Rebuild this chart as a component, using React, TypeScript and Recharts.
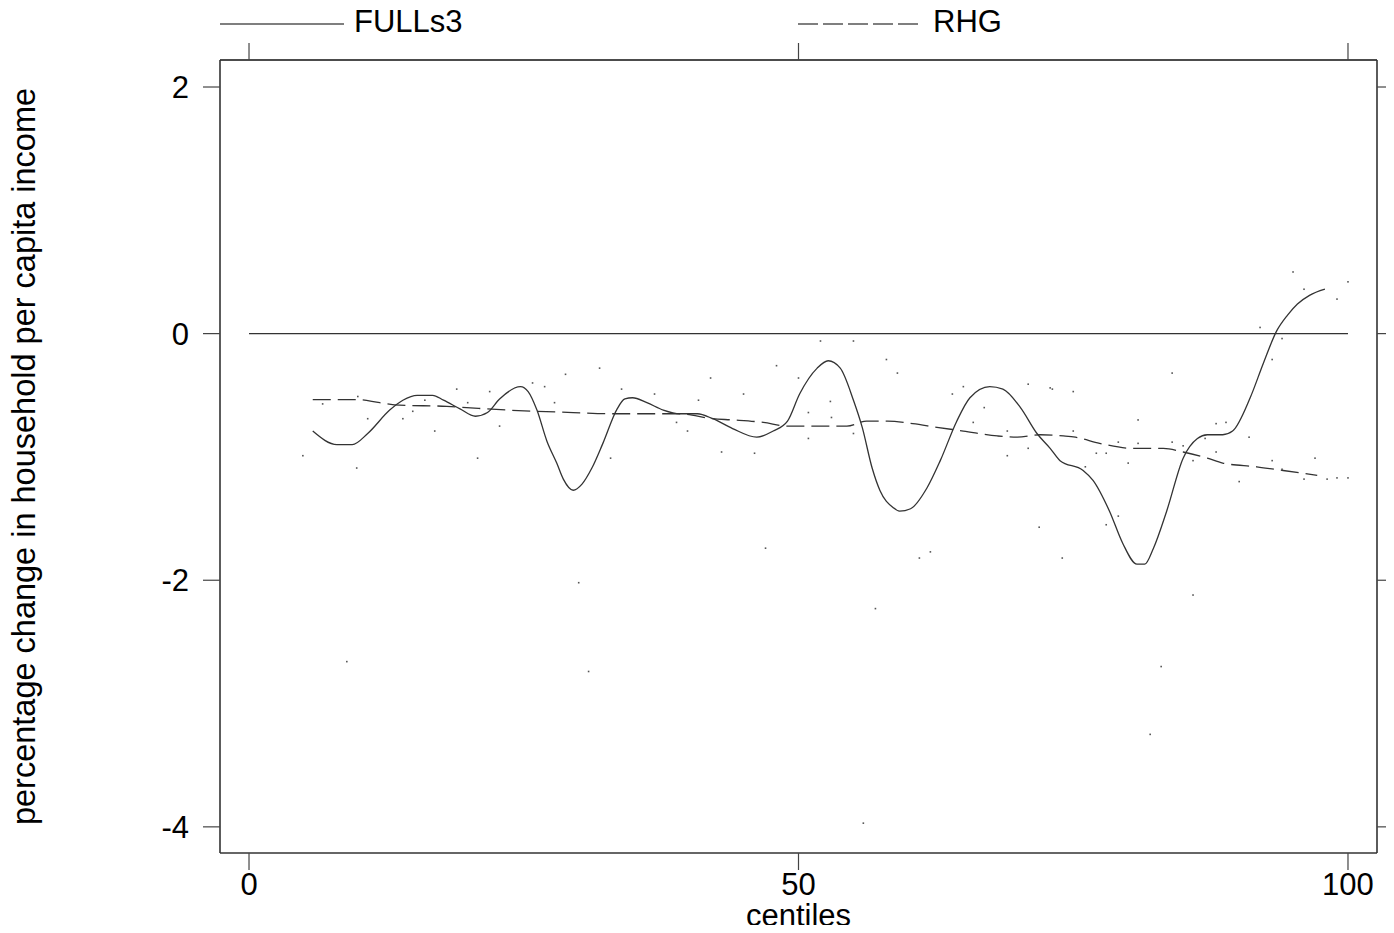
import React from 'react';
import { ComposedChart, Line, Scatter, XAxis, YAxis, ReferenceLine } from 'recharts';

const FONT = '"Liberation Sans", Arial, Helvetica, sans-serif';

// x-axis: centiles; y-axis: percentage change
const xTicks = [0, 50, 100];
const yTicks = [-4, -2, 0, 2];

// FULLs3 (solid smoothed line)
const fullCentiles = [5.8, 8.0, 9.4, 10.8, 12.8, 14.0, 15.3, 16.7, 17.7, 19.2, 20.6, 21.7, 22.8, 24.7, 25.4, 26.2, 27.1, 28.0, 28.6, 29.5, 30.3, 31.2, 32.2, 33.5, 34.2, 34.9, 36.2, 37.7, 39.2, 40.8, 42.2, 44.0, 46.2, 47.7, 49.0, 50.1, 51.7, 52.7, 53.8, 55.0, 55.8, 56.7, 57.4, 58.6, 59.2, 60.2, 61.7, 62.9, 64.4, 65.6, 67.4, 68.6, 70.2, 71.7, 72.9, 73.8, 75.9, 76.8, 78.3, 79.5, 80.8, 81.5, 82.3, 83.5, 85.0, 86.3, 87.2, 88.6, 89.5, 91.1, 92.3, 93.5, 94.5, 95.4, 96.5, 97.9];
const fullValues = [-0.79, -0.90, -0.90, -0.81, -0.62, -0.54, -0.50, -0.50, -0.54, -0.61, -0.67, -0.64, -0.53, -0.43, -0.47, -0.62, -0.87, -1.05, -1.18, -1.27, -1.22, -1.09, -0.89, -0.61, -0.53, -0.52, -0.56, -0.62, -0.65, -0.65, -0.69, -0.77, -0.84, -0.79, -0.71, -0.49, -0.28, -0.22, -0.28, -0.54, -0.76, -1.09, -1.27, -1.41, -1.44, -1.42, -1.25, -1.03, -0.71, -0.52, -0.43, -0.45, -0.60, -0.81, -0.93, -1.03, -1.11, -1.19, -1.44, -1.70, -1.87, -1.87, -1.74, -1.44, -1.01, -0.85, -0.82, -0.82, -0.79, -0.52, -0.24, 0.02, 0.15, 0.24, 0.31, 0.36];

// RHG (dashed smoothed line)
const rhgCentiles = [5.8, 9.8, 11.9, 13.7, 18.0, 19.8, 23.5, 26.2, 29.5, 33.1, 39.2, 42.2, 44.0, 46.8, 49.0, 52.9, 54.4, 56.2, 58.1, 60.4, 62.6, 65.0, 68.1, 69.9, 72.0, 74.1, 75.2, 77.4, 80.4, 83.2, 85.0, 87.2, 88.6, 91.7, 94.1, 97.2];
const rhgValues = [-0.535, -0.535, -0.56, -0.58, -0.59, -0.60, -0.62, -0.63, -0.64, -0.65, -0.65, -0.69, -0.70, -0.72, -0.75, -0.75, -0.75, -0.71, -0.71, -0.73, -0.76, -0.79, -0.83, -0.84, -0.82, -0.83, -0.84, -0.89, -0.93, -0.93, -0.96, -1.01, -1.05, -1.08, -1.11, -1.15];

// raw centile points (tiny dots)
const dotCentiles = [4.9, 9.8, 10.8, 14.0, 14.9, 16.9, 18.9, 20.8, 21.9, 22.8, 25.8, 26.9, 27.8, 28.8, 31.9, 32.9, 33.9, 36.9, 38.9, 6.7, 9.9, 16.0, 19.9, 52.0, 55.0, 58.0, 59.0, 48.0, 50.0, 42.0, 45.0, 40.9, 52.9, 50.9, 53.0, 55.0, 50.9, 46.0, 43.0, 39.9, 64.0, 65.0, 66.9, 70.9, 73.1, 75.0, 65.9, 69.0, 75.0, 69.0, 70.9, 71.9, 74.0, 62.0, 61.0, 47.0, 95.0, 100.0, 99.0, 96.0, 92.0, 94.0, 93.1, 84.0, 72.9, 80.9, 88.0, 88.9, 91.0, 79.1, 80.9, 84.0, 85.0, 77.1, 78.0, 80.0, 85.9, 88.0, 87.0, 93.1, 97.0, 94.0, 90.1, 96.0, 98.1, 99.0, 100.0, 76.1, 79.1, 78.0, 85.9, 57.0, 83.0, 82.0, 55.9, 30.0, 8.9, 30.9];
const dotValues = [-0.99, -1.09, -0.69, -0.69, -0.63, -0.79, -0.45, -1.01, -0.47, -0.75, -0.40, -0.43, -0.56, -0.33, -0.28, -1.01, -0.45, -0.49, -0.72, -0.57, -0.51, -0.54, -0.56, -0.06, -0.06, -0.21, -0.32, -0.26, -0.36, -0.36, -0.49, -0.54, -0.55, -0.64, -0.68, -0.81, -0.85, -0.97, -0.96, -0.79, -0.49, -0.43, -0.60, -0.41, -0.45, -0.47, -0.72, -0.79, -0.79, -0.99, -0.93, -1.57, -1.82, -1.77, -1.82, -1.74, 0.50, 0.42, 0.28, 0.36, 0.05, -0.04, -0.21, -0.32, -0.44, -0.70, -0.73, -0.72, -0.84, -0.88, -0.89, -0.88, -0.91, -0.97, -0.97, -1.05, -1.03, -0.96, -0.85, -1.03, -1.01, -1.10, -1.20, -1.18, -1.18, -1.17, -1.17, -1.08, -1.48, -1.55, -2.12, -2.23, -2.70, -3.25, -3.97, -2.02, -2.66, -2.74];

const zip = (cs: number[], vs: number[]) => cs.map((c, i) => ({ c, v: vs[i] }));
const fullData = zip(fullCentiles, fullValues);
const rhgData = zip(rhgCentiles, rhgValues);
const dotData = zip(dotCentiles, dotValues);

const X_DOMAIN: [number, number] = [-2.64, 102.64];
const Y_DOMAIN: [number, number] = [-4.212, 2.219];

const AXIS = '#333';
const TICK = '#444';

const XTitle = (props: any) => {
  const vb = props.viewBox || { x: 220, y: 853, width: 1157, height: 80 };
  return (
    <text x={vb.x + vb.width / 2} y={vb.y + 73} textAnchor="middle" fill="#000" fontSize={31} fontFamily={FONT}>
      centiles
    </text>
  );
};

const YTitle = (props: any) => {
  const vb = props.viewBox || { x: 0, y: 60, width: 220, height: 793 };
  const x = vb.x + 35;
  const y = vb.y + vb.height / 2;
  return (
    <text x={x} y={y} transform={`rotate(-90, ${x}, ${y})`} textAnchor="middle" fill="#000" fontSize={32.5} fontFamily={FONT}>
      percentage change in household per capita income
    </text>
  );
};

const EmptyTick = () => <g />;

const TinyDot = (p: any) => (
  <rect x={p.cx - 0.8} y={p.cy - 0.8} width={1.6} height={1.6} fill="#555" />
);

export default function App() {
  return (
    <div style={{ position: 'relative', width: 1394, height: 933, margin: -8, fontFamily: FONT }}>
      <ComposedChart width={1394} height={933} margin={{ top: 0, right: 0, bottom: 0, left: 0 }}>
        <XAxis
          xAxisId="bottom"
          orientation="bottom"
          dataKey="c"
          type="number"
          domain={X_DOMAIN}
          ticks={xTicks}
          allowDataOverflow
          height={80}
          tickSize={17}
          tickMargin={3}
          axisLine={{ stroke: AXIS, strokeWidth: 1.6 }}
          tickLine={{ stroke: TICK, strokeWidth: 1.2 }}
          tick={{ fill: '#000', fontSize: 31, fontFamily: FONT }}
          label={<XTitle />}
        />
        <XAxis
          xAxisId="top"
          orientation="top"
          dataKey="c"
          type="number"
          domain={X_DOMAIN}
          ticks={xTicks}
          allowDataOverflow
          height={60}
          tickSize={17}
          axisLine={{ stroke: '#111', strokeWidth: 1.6 }}
          tickLine={{ stroke: TICK, strokeWidth: 1.2 }}
          tick={EmptyTick}
        />
        <YAxis
          yAxisId="left"
          orientation="left"
          type="number"
          domain={Y_DOMAIN}
          ticks={yTicks}
          allowDataOverflow
          width={220}
          tickSize={17}
          tickMargin={14}
          axisLine={{ stroke: AXIS, strokeWidth: 1.6 }}
          tickLine={{ stroke: TICK, strokeWidth: 1.2 }}
          tick={{ fill: '#000', fontSize: 31, fontFamily: FONT }}
          label={<YTitle />}
        />
        <YAxis
          yAxisId="right"
          orientation="right"
          type="number"
          domain={Y_DOMAIN}
          ticks={yTicks}
          allowDataOverflow
          width={17}
          tickSize={17}
          axisLine={{ stroke: AXIS, strokeWidth: 1.6 }}
          tickLine={{ stroke: TICK, strokeWidth: 1.2 }}
          tick={EmptyTick}
        />
        <ReferenceLine
          xAxisId="bottom"
          yAxisId="left"
          segment={[{ x: 0, y: 0 }, { x: 100, y: 0 }]}
          stroke="#333"
          strokeWidth={1.4}
        />
        <Scatter
          xAxisId="bottom"
          yAxisId="left"
          name="points"
          data={dotData}
          dataKey="v"
          shape={TinyDot}
          isAnimationActive={false}
        />
        <Line
          xAxisId="bottom"
          yAxisId="left"
          name="FULLs3"
          data={fullData}
          dataKey="v"
          type="monotone"
          dot={false}
          activeDot={false}
          stroke="#333"
          strokeWidth={1.3}
          isAnimationActive={false}
        />
        <Line
          xAxisId="bottom"
          yAxisId="left"
          name="RHG"
          data={rhgData}
          dataKey="v"
          type="monotone"
          dot={false}
          activeDot={false}
          stroke="#333"
          strokeWidth={1.3}
          strokeDasharray="18 7"
          isAnimationActive={false}
        />
      </ComposedChart>
      <svg width={1394} height={44} style={{ position: 'absolute', left: 0, top: 0, pointerEvents: 'none' }}>
        <line x1={220} y1={24} x2={344} y2={24} stroke="#555" strokeWidth={1.4} />
        <text x={354} y={32} fontSize={31} fontFamily={FONT} fill="#000">FULLs3</text>
        <line x1={798} y1={24} x2={923} y2={24} stroke="#555" strokeWidth={1.4} strokeDasharray="20 5" />
        <text x={933} y={32} fontSize={31} fontFamily={FONT} fill="#000">RHG</text>
      </svg>
    </div>
  );
}
